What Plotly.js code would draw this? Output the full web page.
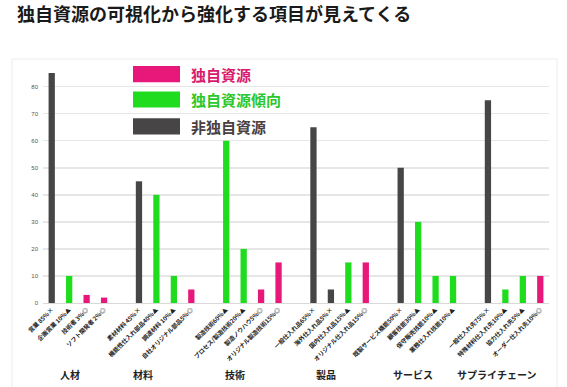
<!DOCTYPE html>
<html>
<head>
<meta charset="utf-8">
<script src="https://cdn.plot.ly/plotly-3.0.1.min.js"></script>
<style>
  html, body { margin: 0; padding: 0; background: #ffffff; }
  #chart { width: 567px; height: 387px; }
</style>
</head>
<body>
<div id="chart"></div>
<script>
// ---- data ----
const groups = ["人材", "材料", "技術", "製品", "サービス", "サプライチェーン"];

const items = [
  ["営業 85%×", "企画営業 10%▲", "技術者 3%◎", "ソフト開発者 2%◎"],
  ["素材材料 45%×", "機能性仕入れ部品40%▲", "調達材料 10%▲", "自社オリジナル部品5%◎"],
  ["製造技術60%▲", "プロセス/製造技術20%▲", "製造ノウハウ5%◎", "オリジナル製造技術15%◎"],
  ["一般仕入れ品65%×", "海外仕入れ品5%×", "国内仕入れ品15%▲", "オリジナル仕入れ品15%◎"],
  ["既製サービス機能50%×", "顧客技能30%▲", "保守販売技能10%▲", "業務仕入れ技能10%▲"],
  ["一般仕入れ先75%×", "特殊材料仕入れ先10%▲", "協力仕入れ先5%▲", "オーダー仕入れ先10%◎"]
];

const values = [
  [85, 10, 3, 2],
  [45, 40, 10, 5],
  [60, 20, 5, 15],
  [65, 5, 15, 15],
  [50, 30, 10, 10],
  [75, 5, 10, 10]
];

// resource type of each bar: own = 独自資源, trend = 独自資源傾向, non = 非独自資源
const kinds = [
  ["non", "trend", "own", "own"],
  ["non", "trend", "trend", "own"],
  ["trend", "trend", "own", "own"],
  ["non", "non", "trend", "own"],
  ["non", "trend", "trend", "trend"],
  ["non", "trend", "trend", "own"]
];

const seriesNames = { own: "独自資源", trend: "独自資源傾向", non: "非独自資源" };
const seriesOrder = ["own", "trend", "non"];
const yTicks = [0, 10, 20, 30, 40, 50, 60, 70, 80];

// ---- styles ----
const colors = { own: "#e8177a", trend: "#1fdc1f", non: "#474545" };
const textColors = { own: "#d81a6e", trend: "#2cc72c", non: "#4a4040" };
const cjk = "'Noto Sans CJK JP', 'Noto Sans', sans-serif";

// build the category list with blank spacer slots between groups
const categories = [];
const groupStart = [];
items.forEach((labels, g) => {
  if (g > 0) categories.push(" ".repeat(g));
  groupStart.push(categories.length);
  labels.forEach(l => categories.push(l));
});

const traces = seriesOrder.map(k => {
  const x = [], y = [];
  items.forEach((labels, g) => {
    labels.forEach((l, i) => {
      if (kinds[g][i] === k) { x.push(l); y.push(values[g][i]); }
    });
  });
  return {
    type: "bar", name: seriesNames[k], x: x, y: y,
    marker: { color: colors[k] }, width: 0.36,
    hoverinfo: "x+y", showlegend: false
  };
});

// group label offsets (in category-slot units from group start)
const groupOffsets = [1.03, 0.21, 0.5, 0.7, 0.7, 0.5];
const annotations = groups.map((g, i) => ({
  text: g, xref: "x", yref: "paper",
  x: groupStart[i] + groupOffsets[i], y: -0.3, yanchor: "middle", xanchor: "center",
  showarrow: false, font: { family: cjk, size: 10, color: "#222", weight: "bold" }
}));

// legend drawn as swatches + labels
const shapes = [];
const legendRows = [0.962, 0.855, 0.742]; // paper y centres
seriesOrder.forEach((k, i) => {
  shapes.push({
    type: "rect", xref: "paper", yref: "paper",
    x0: (133 - 43) / 506, x1: (180 - 43) / 506,
    y0: legendRows[i] - 0.034, y1: legendRows[i] + 0.034,
    fillcolor: colors[k], line: { width: 0 }, layer: "above"
  });
  annotations.push({
    text: seriesNames[k], xref: "paper", yref: "paper",
    x: (189 - 43) / 506, y: legendRows[i], xanchor: "left", yanchor: "middle",
    showarrow: false, font: { family: cjk, size: 15, color: textColors[k], weight: "bold" }
  });
});

// faint panel border
shapes.push({
  type: "rect", xref: "paper", yref: "paper",
  x0: (12 - 43) / 506, x1: (557 - 43) / 506, y0: -0.4, y1: (303 - 59) / 238,
  line: { color: "#ececec", width: 1 }, fillcolor: "rgba(0,0,0,0)", layer: "below"
});

const layout = {
  width: 567, height: 387,
  margin: { l: 43, r: 18, t: 65, b: 84 },
  paper_bgcolor: "#ffffff", plot_bgcolor: "#ffffff",
  barmode: "overlay",
  title: {
    text: "独自資源の可視化から強化する項目が見えてくる",
    x: 17 / 567, xanchor: "left", xref: "container",
    y: 1 - 8 / 387, yanchor: "top", yref: "container",
    font: { family: cjk, size: 18, color: "#1a1a1a", weight: "bold" }
  },
  xaxis: {
    type: "category", categoryorder: "array", categoryarray: categories,
    range: [-0.5, categories.length - 0.5],
    tickangle: -45, tickfont: { family: cjk, size: 6, color: "#222", weight: "bold" },
    showgrid: false, zeroline: false, ticks: "", showline: true,
    linecolor: "#d9d9d9", linewidth: 1, automargin: false
  },
  yaxis: {
    range: [0, 88], tickvals: yTicks, ticktext: yTicks.map(String),
    tickfont: { family: "'Liberation Sans', Arial, sans-serif", size: 6, color: "#555" },
    showgrid: true, gridcolor: "#e6e6e6", gridwidth: 1.5,
    zeroline: false, showline: false, ticks: "", ticklabelstandoff: 4, automargin: false
  },
  annotations: annotations,
  shapes: shapes,
  showlegend: false
};

Plotly.newPlot("chart", traces, layout, { displayModeBar: false, staticPlot: true });
</script>
</body>
</html>
